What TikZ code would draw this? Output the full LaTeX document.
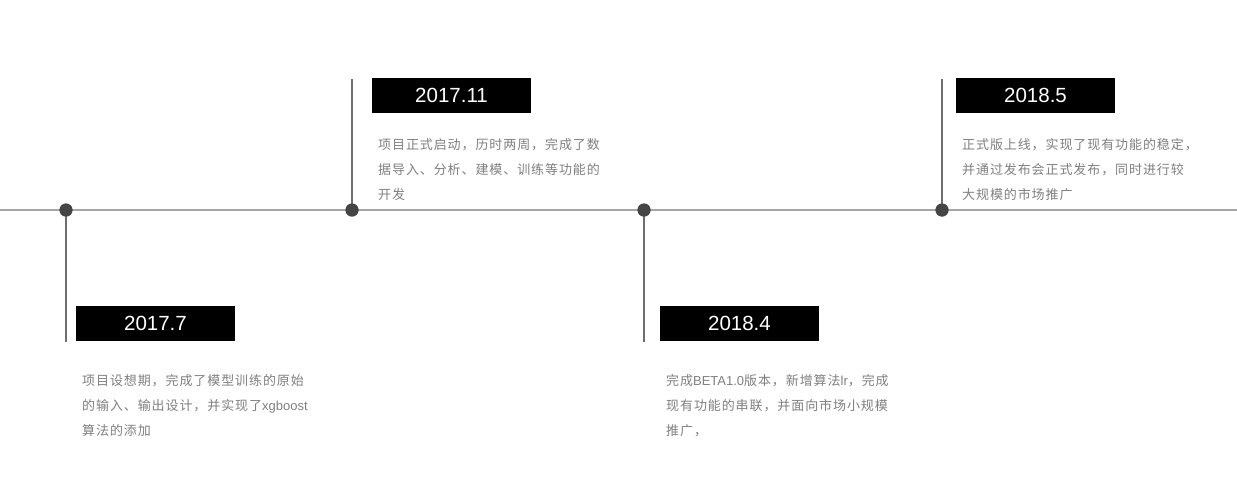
\documentclass[tikz,border=0pt]{standalone}
\usepackage{fontspec}
\setmainfont{Liberation Sans}
\newfontfamily\cjk[LetterSpace=7]{Noto Sans CJK SC}
\newfontfamily\lat{Liberation Sans}
\definecolor{axisgray}{HTML}{A6A6A6}
\definecolor{stemgray}{HTML}{6E6E6E}
\definecolor{dotgray}{HTML}{454545}
\definecolor{descgray}{HTML}{7F7F7F}
\tikzset{
  axisline/.style={draw=axisgray, line width=1.5pt},
  stem/.style={draw=stemgray, line width=2pt},
  tdot/.style={circle, fill=dotgray, inner sep=0pt, minimum size=13pt},
  datebox/.style={fill=black, text=white, minimum width=159pt, minimum height=35pt, inner sep=0pt, font=\fontsize{20.5}{24}\selectfont},
  desc/.style={anchor=base west, inner sep=0pt, text=descgray, font=\cjk\fontsize{13}{25}\selectfont},
}
\begin{document}
\begin{tikzpicture}[x=1pt, y=-1pt]
\useasboundingbox (0,0) rectangle (1237,488);
\coordinate (L) at (0,210);
\coordinate (R) at (1237,210);
\draw[axisline] (L) -- (R);

\coordinate (e1) at (66,342);
\coordinate (e2) at (352,79);
\coordinate (e3) at (644,342);
\coordinate (e4) at (942,79);

\node[tdot] (d1) at (66,210) {};
\node[tdot] (d2) at (352,210) {};
\node[tdot] (d3) at (644,210) {};
\node[tdot] (d4) at (942,210) {};

\draw[stem] (d1.center) -- (e1);
\draw[stem] (d2.center) -- (e2);
\draw[stem] (d3.center) -- (e3);
\draw[stem] (d4.center) -- (e4);

\node[tdot] at (d1) {};
\node[tdot] at (d2) {};
\node[tdot] at (d3) {};
\node[tdot] at (d4) {};

\node[datebox] (b1) at (155.5,323.5) {2017.7};
\node[datebox] (b2) at (451.5,95.5) {2017.11};
\node[datebox] (b3) at (739.5,323.5) {2018.4};
\node[datebox] (b4) at (1035.5,95.5) {2018.5};

\node[desc] (t1) at (82,385) {\parbox[t]{260pt}{项目设想期，完成了模型训练的原始\\的输入、输出设计，并实现了{\lat xgboost}\\算法的添加}};
\node[desc] (t2) at (378,149) {\parbox[t]{260pt}{项目正式启动，历时两周，完成了数\\据导入、分析、建模、训练等功能的\\开发}};
\node[desc] (t3) at (666,385) {\parbox[t]{260pt}{完成{\lat BETA1.0}版本，新增算法{\lat lr}，完成\\现有功能的串联，并面向市场小规模\\推广，}};
\node[desc] (t4) at (962,149) {\parbox[t]{260pt}{正式版上线，实现了现有功能的稳定，\\并通过发布会正式发布，同时进行较\\大规模的市场推广}};
\end{tikzpicture}
\end{document}
